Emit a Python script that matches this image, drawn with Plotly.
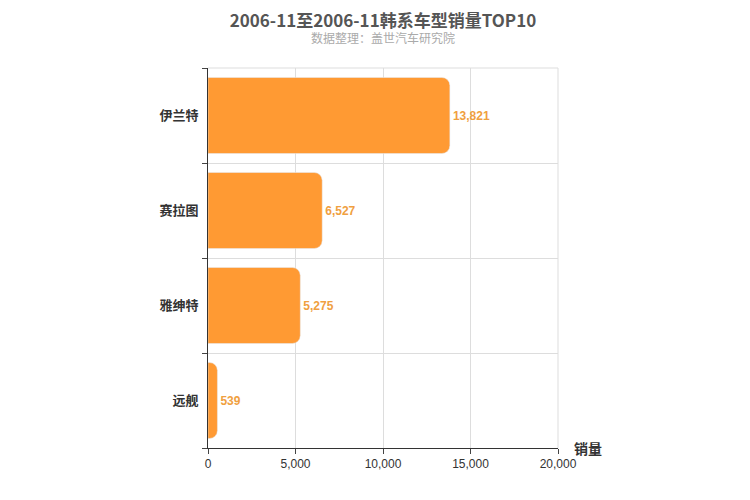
import plotly.graph_objects as go

categories = ["伊兰特", "赛拉图", "雅绅特", "远舰"]
values = [13821, 6527, 5275, 539]
x_ticks = [0, 5000, 10000, 15000, 20000]
x_tick_labels = ["0", "5,000", "10,000", "15,000", "20,000"]

fig = go.Figure(go.Bar(
    y=categories, x=values, orientation="h",
    marker=dict(color="#FF9A33", cornerradius=8),
    width=0.8,
    text=[f"<b>{v:,}</b>" for v in values], textposition="outside",
    textfont=dict(color="#F0A040", size=12, family="Arial"),
    cliponaxis=False,
))
fig.update_layout(
    width=750, height=500,
    margin=dict(l=200, r=200, t=60, b=60, autoexpand=False),
    plot_bgcolor="white", paper_bgcolor="white",
    font=dict(family="Noto Sans CJK SC, Arial", color="#333"),
    title=dict(text="<b>2006-11至2006-11韩系车型销量TOP10</b>", x=0.5, xanchor="center",
               y=0.985, yanchor="top", font=dict(size=17, color="#555")),
    showlegend=False,
)
fig.add_annotation(text="数据整理：盖世汽车研究院", xref="paper", yref="paper", x=0.5, y=1.08,
                   yanchor="middle", showarrow=False, font=dict(size=12, color="#aaa"))
fig.add_annotation(text="<b>销量</b>", xref="paper", yref="paper", x=1.04, y=0.0,
                   xanchor="left", yanchor="middle", showarrow=False, font=dict(size=14, color="#333"))
fig.update_xaxes(range=[0, 20000], tickvals=x_ticks, ticktext=x_tick_labels, automargin=False,
                 showgrid=True, gridcolor="#ddd", zeroline=False,
                 showline=True, linecolor="#333", ticks="outside", ticklen=5,
                 tickfont=dict(size=12, family="Arial"))
fig.update_yaxes(type="category", categoryorder="array", categoryarray=categories[::-1],
                 automargin=False,
                 tickson="boundaries", ticks="outside", ticklen=5, showline=True, linecolor="#333",
                 showgrid=True, gridcolor="#ddd", tickfont=dict(size=13, color="#333"),
                 tickprefix="<b>", ticksuffix="</b>  ")
fig.add_shape(type="line", xref="paper", yref="paper", x0=1, x1=1, y0=0, y1=1,
              line=dict(color="#ddd", width=1))
fig.add_shape(type="line", xref="paper", yref="paper", x0=0, x1=1, y0=1, y1=1,
              line=dict(color="#ddd", width=1))
fig.write_html("out.html")
